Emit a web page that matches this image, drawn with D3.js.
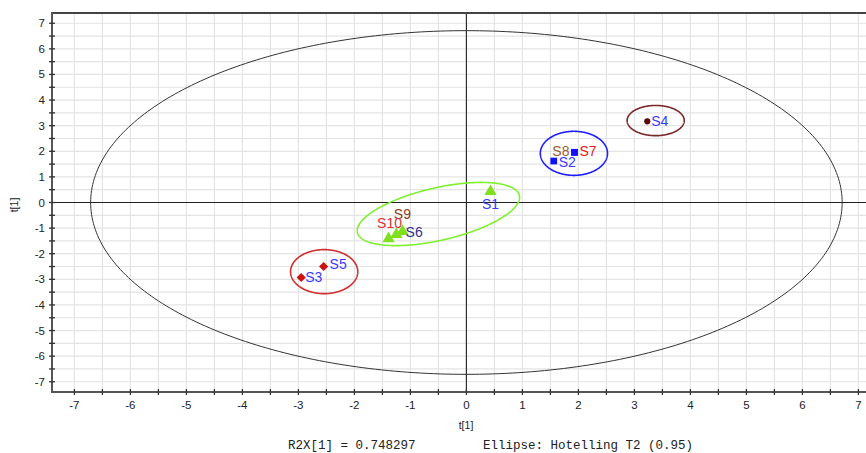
<!DOCTYPE html>
<html><head><meta charset="utf-8">
<script src="https://cdn.jsdelivr.net/npm/d3@7"></script>
<style>body{margin:0;background:#fff}svg{display:block}</style>
</head><body><svg id="c" width="866" height="453"></svg>
<script>
// ---- data ----
const samples = ["S1","S2","S3","S4","S5","S6","S7","S8","S9","S10"];
const t1x =     [0.43, 1.56,-2.95, 3.23,-2.55,-1.14, 1.93, 1.93,-1.25,-1.39];
const t1y =     [0.43, 1.62,-2.93, 3.17,-2.50,-1.13, 1.96, 1.96,-1.25,-1.41];
const groups =  ["g","b","r","k","r","g","b","b","g","g"];
const xTicks = [-7,-6,-5,-4,-3,-2,-1,0,1,2,3,4,5,6,7];
const yTicks = [-7,-6,-5,-4,-3,-2,-1,0,1,2,3,4,5,6,7];
// group ellipses: centre and two semi-axis vectors (data units)
const ellGroup = ["g","r","b","k"];
const ellCx = [-0.50,-2.54,1.92,3.38];
const ellCy = [-0.45,-2.70,1.92,3.20];
const ellUx = [1.446,0.60,0.60,0.51];
const ellUy = [0.724,0,0,0];
const ellVx = [0.104,0,0,0];
const ellVy = [-1.00,0.86,0.86,0.59];
const hotellingR = [6.71, 6.71];
const footer1 = "R2X[1] = 0.748297";
const footer2 = "Ellipse: Hotelling T2 (0.95)";

// ---- styles ----
const markerCol = {g:"#7fe020", r:"#cc1111", b:"#1010ff", k:"#5a0a0a"};
const ellCol = {g:"#80f030", r:"#d03030", b:"#2020ff", k:"#7a2a2a"};
const symType = {g:d3.symbolTriangle, r:d3.symbolSquare, b:d3.symbolSquare, k:d3.symbolCircle};
const symRot = {g:0, r:45, b:0, k:0};
const symSize = {g:65, r:42, b:45, k:30};
const labelCol = {S1:"#3a3aff",S2:"#3a3aff",S3:"#3a3aff",S4:"#3a3aff",S5:"#3a3aff",
  S6:"#303090",S7:"#e02020",S8:"#a0602a",S9:"#8b3a1a",S10:"#e03030"};
// label placement (pixel offsets, anchor)
const labelPos = {S1:[0,13,"middle"],S2:[5,1,"start"],S3:[4,0,"start"],S4:[4,0,"start"],
  S5:[6,-2,"start"],S6:[3,1,"start"],S7:[5,-1,"start"],S8:[-5,-1,"end"],
  S9:[6,-20,"middle"],S10:[1,-16,"middle"]};

const svg = d3.select("#c");
const L=52, T=13, B=392, R=866;
const x = d3.scaleLinear().domain([-7.4,7.4]).range([L, L+14.8*56]);
const y = d3.scaleLinear().domain([-7.4,7.4]).range([B, T]);

svg.append("defs").append("clipPath").attr("id","clip")
  .append("rect").attr("x",L).attr("y",T).attr("width",R-L).attr("height",B-T);

const plot = svg.append("g").attr("clip-path","url(#clip)");
// grid every 0.5
const halfSteps = d3.range(-14,15).map(d=>d/2);
plot.selectAll(".gx").data(halfSteps).join("line")
  .attr("x1",d=>x(d)).attr("x2",d=>x(d)).attr("y1",T).attr("y2",B)
  .attr("stroke","#e4e4e4").attr("stroke-width",1.2);
plot.selectAll(".gy").data(halfSteps).join("line")
  .attr("y1",d=>y(d)).attr("y2",d=>y(d)).attr("x1",L).attr("x2",R)
  .attr("stroke","#e4e4e4").attr("stroke-width",1.2);
// zero lines
plot.append("line").attr("x1",x(0)).attr("x2",x(0)).attr("y1",T).attr("y2",B).attr("stroke","#222").attr("stroke-width",1.1);
plot.append("line").attr("y1",y(0)).attr("y2",y(0)).attr("x1",L).attr("x2",R).attr("stroke","#222").attr("stroke-width",1.1);

const line = d3.line().x(d=>x(d[0])).y(d=>y(d[1]));
const ang = d3.range(0,361).map(a=>a*Math.PI/180);
// Hotelling ellipse
plot.append("path").attr("d", line(ang.map(a=>[hotellingR[0]*Math.cos(a), hotellingR[1]*Math.sin(a)])))
  .attr("fill","none").attr("stroke","#333").attr("stroke-width",1);
// group ellipses
ellGroup.forEach((g,i)=>{
  const pts = ang.map(a=>[ellCx[i]+Math.cos(a)*ellUx[i]+Math.sin(a)*ellVx[i],
                          ellCy[i]+Math.cos(a)*ellUy[i]+Math.sin(a)*ellVy[i]]);
  plot.append("path").attr("d",line(pts)).attr("fill","none")
    .attr("stroke",ellCol[g]).attr("stroke-width",1.6);
});
// markers
samples.forEach((s,i)=>{
  const g=groups[i];
  plot.append("path").attr("d",d3.symbol().type(symType[g]).size(symSize[g])())
    .attr("transform",`translate(${x(t1x[i])},${y(t1y[i])}) rotate(${symRot[g]})`).attr("fill",markerCol[g]);
});
// labels
samples.forEach((s,i)=>{
  const p=labelPos[s];
  plot.append("text").attr("x",x(t1x[i])+p[0]).attr("y",y(t1y[i])+p[1])
    .attr("dy","0.35em").attr("text-anchor",p[2])
    .attr("font-family","Liberation Sans, Arial, sans-serif").attr("font-size",14)
    .attr("fill",labelCol[s]).text(s);
});

// axes
const axCol="#555";
svg.append("line").attr("x1",L).attr("x2",R).attr("y1",T).attr("y2",T).attr("stroke","#444").attr("stroke-width",2);
svg.append("line").attr("x1",L).attr("x2",R).attr("y1",B).attr("y2",B).attr("stroke",axCol).attr("stroke-width",2);
svg.append("line").attr("x1",L).attr("x2",L).attr("y1",T-1).attr("y2",B+1).attr("stroke",axCol).attr("stroke-width",2);
svg.selectAll(".tx").data(halfSteps).join("line")
  .attr("x1",d=>x(d)).attr("x2",d=>x(d)).attr("y1",B-3).attr("y2",B+3).attr("stroke","#333").attr("stroke-width",1.3);
svg.selectAll(".ty").data(halfSteps).join("line")
  .attr("y1",d=>y(d)).attr("y2",d=>y(d)).attr("x1",L-3).attr("x2",L+3).attr("stroke","#333").attr("stroke-width",1.3);
const tf="Liberation Sans, Arial, sans-serif";
svg.selectAll(".lx").data(xTicks).join("text")
  .attr("x",d=>x(d)).attr("y",409).attr("text-anchor","middle")
  .attr("font-family",tf).attr("font-size",11.5).attr("fill","#222").text(d=>d);
svg.selectAll(".ly").data(yTicks).join("text")
  .attr("x",45).attr("y",d=>y(d)).attr("dy","0.35em").attr("text-anchor","end")
  .attr("font-family",tf).attr("font-size",11.5).attr("fill","#222").text(d=>d);
svg.append("text").attr("x",466).attr("y",429).attr("text-anchor","middle")
  .attr("font-family",tf).attr("font-size",10.5).attr("fill","#222").text("t[1]");
svg.append("text").attr("transform","translate(18,205) rotate(-90)").attr("text-anchor","middle")
  .attr("font-family",tf).attr("font-size",10.5).attr("fill","#222").text("t[1]");
svg.append("text").attr("x",288).attr("y",449).attr("font-family","Liberation Mono, Courier New, monospace")
  .attr("font-size",12.5).attr("fill","#222").text(footer1);
svg.append("text").attr("x",483).attr("y",449).attr("font-family","Liberation Mono, Courier New, monospace")
  .attr("font-size",12.5).attr("fill","#222").text(footer2);
</script></body></html>
